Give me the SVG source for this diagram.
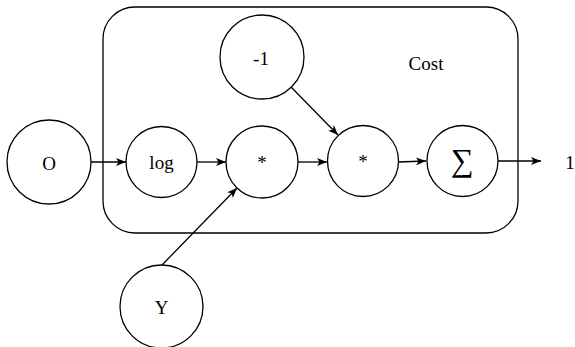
<svg xmlns="http://www.w3.org/2000/svg" width="575" height="347" viewBox="0 0 575 347">
<style>
.n{fill:#fff;stroke:#000;stroke-width:1.3}
.t{font-family:"Liberation Serif","Times New Roman",serif;font-size:19px;fill:#000;text-anchor:middle;dominant-baseline:central}
.e{fill:none;stroke:#000;stroke-width:1.3}
</style>
<defs>
<marker id="a" viewBox="0 0 10 8" refX="10" refY="4" markerWidth="10" markerHeight="8" markerUnits="userSpaceOnUse" orient="auto">
<path d="M0,0 L10,4 L0,8 L2.5,4 Z" fill="#000"/>
</marker>
</defs>
<g id="cost">
<rect x="103" y="7" width="415" height="226" rx="32" class="n"/>
<text class="t" x="426" y="63">Cost</text>
</g>
<g id="edges">
<line class="e" x1="91" y1="162" x2="126" y2="162" marker-end="url(#a)"/>
<line class="e" x1="197" y1="162" x2="226" y2="162" marker-end="url(#a)"/>
<line class="e" x1="298" y1="162" x2="327" y2="162" marker-end="url(#a)"/>
<line class="e" x1="398" y1="162" x2="426" y2="161" marker-end="url(#a)"/>
<line class="e" x1="498" y1="161" x2="541" y2="161" marker-end="url(#a)"/>
<line class="e" x1="291" y1="87" x2="338" y2="135" marker-end="url(#a)"/>
<line class="e" x1="162" y1="265" x2="237" y2="188" marker-end="url(#a)"/>
</g>
<g id="O"><circle class="n" cx="49" cy="162" r="42"/><text class="t" x="49" y="163">O</text></g>
<g id="log"><circle class="n" cx="161.5" cy="162" r="35.5"/><text class="t" x="161.5" y="162">log</text></g>
<g id="mul1"><circle class="n" cx="262" cy="162" r="36"/><text class="t" x="262" y="162">*</text></g>
<g id="neg1"><circle class="n" cx="262" cy="57" r="42"/><text class="t" x="261" y="58">-1</text></g>
<g id="mul2"><circle class="n" cx="363" cy="161" r="35.5"/><text class="t" x="363" y="161">*</text></g>
<g id="sum"><circle class="n" cx="462.5" cy="161" r="35.5"/><text class="t" x="462.5" y="160" style="font-size:32px">∑</text></g>
<g id="Y"><circle class="n" cx="161.5" cy="306.5" r="41.5"/><text class="t" x="161.5" y="307">Y</text></g>
<g id="out"><text class="t" x="570" y="162">1</text></g>
</svg>
